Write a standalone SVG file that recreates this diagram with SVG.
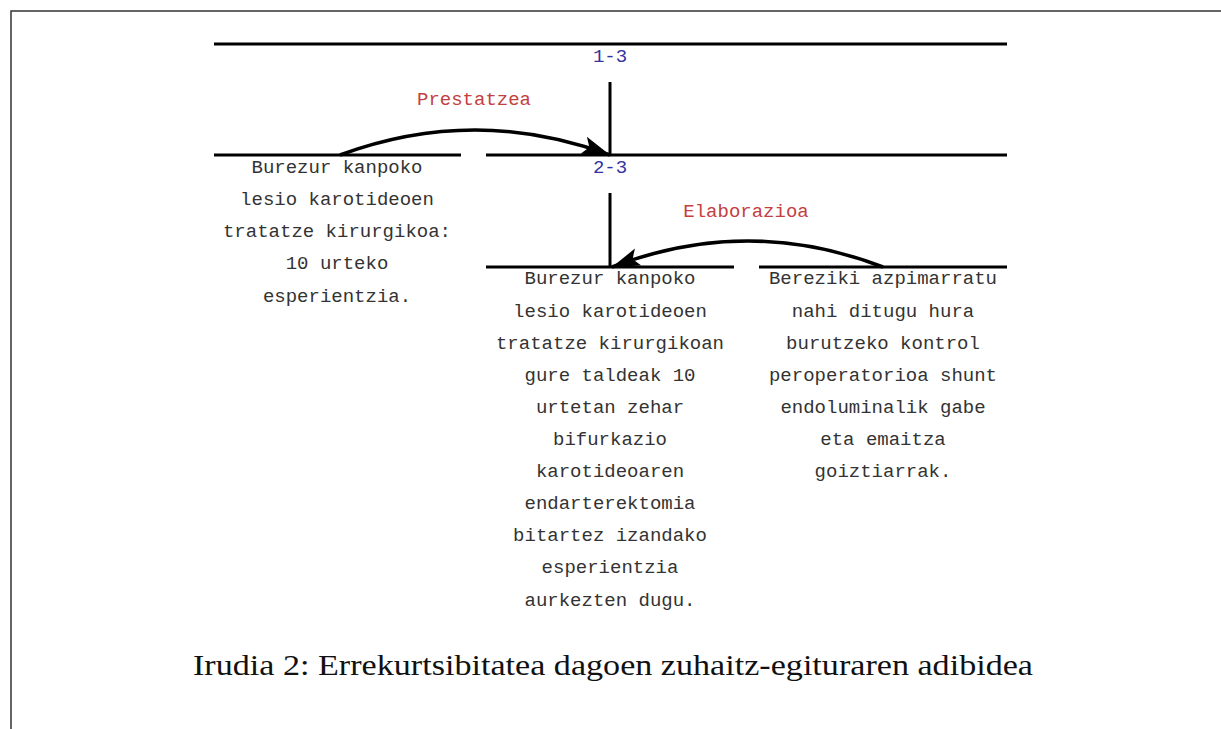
<svg xmlns="http://www.w3.org/2000/svg" width="1221" height="729" viewBox="0 0 1221 729">
<style>
.ln{stroke:#000;stroke-width:3;fill:none}
.t{font-family:"Liberation Mono","DejaVu Sans Mono",monospace;font-size:19px;fill:#333;text-anchor:middle}
.id{font-family:"Liberation Mono",monospace;font-size:19px;fill:#3333a0;text-anchor:middle}
.rel{font-family:"Liberation Mono",monospace;font-size:19px;fill:#c44040;text-anchor:middle}
.cap{font-family:"Liberation Serif","Times New Roman",serif;font-size:29px;fill:#111;text-anchor:middle}
.arc{stroke:#000;stroke-width:3.5;fill:none}
</style>
<defs>
<marker id="ah" markerUnits="userSpaceOnUse" markerWidth="30" markerHeight="30" viewBox="0 0 30 30" refX="28" refY="15" orient="auto">
<path d="M0,6 L28,15 L0,24 L6,15 Z" fill="#000"/>
</marker>
</defs>
<rect width="1221" height="729" fill="#fff"/>
<g id="frame">
<path d="M11,729 V11 H1221" stroke="#333" stroke-width="1.5" fill="none"/>
</g>
<g id="node-1-3">
<line class="ln" x1="214" y1="44" x2="1007" y2="44"/>
<text class="id" x="610" y="62">1-3</text>
</g>
<g id="node-sat1">
<line class="ln" x1="214" y1="155" x2="461" y2="155"/>
<text class="t" x="337" y="173">Burezur kanpoko</text>
<text class="t" x="337" y="205">lesio karotideoen</text>
<text class="t" x="337" y="237">tratatze kirurgikoa:</text>
<text class="t" x="337" y="269">10 urteko</text>
<text class="t" x="337" y="302">esperientzia.</text>
</g>
<g id="node-2-3">
<line class="ln" x1="610" y1="82" x2="610" y2="155"/>
<line class="ln" x1="486" y1="155" x2="1007" y2="155"/>
<text class="id" x="610" y="173">2-3</text>
<line class="ln" x1="610" y1="193" x2="610" y2="267"/>
</g>
<g id="node-nuc2">
<line class="ln" x1="486" y1="267" x2="734" y2="267"/>
<text class="t" x="610" y="284">Burezur kanpoko</text>
<text class="t" x="610" y="317">lesio karotideoen</text>
<text class="t" x="610" y="349">tratatze kirurgikoan</text>
<text class="t" x="610" y="381">gure taldeak 10</text>
<text class="t" x="610" y="413">urtetan zehar</text>
<text class="t" x="610" y="445">bifurkazio</text>
<text class="t" x="610" y="477">karotideoaren</text>
<text class="t" x="610" y="509">endarterektomia</text>
<text class="t" x="610" y="541">bitartez izandako</text>
<text class="t" x="610" y="573">esperientzia</text>
<text class="t" x="610" y="606">aurkezten dugu.</text>
</g>
<g id="node-sat2">
<line class="ln" x1="759" y1="267" x2="1007" y2="267"/>
<text class="t" x="883" y="284">Bereziki azpimarratu</text>
<text class="t" x="883" y="317">nahi ditugu hura</text>
<text class="t" x="883" y="349">burutzeko kontrol</text>
<text class="t" x="883" y="381">peroperatorioa shunt</text>
<text class="t" x="883" y="413">endoluminalik gabe</text>
<text class="t" x="883" y="445">eta emaitza</text>
<text class="t" x="883" y="477">goiztiarrak.</text>
</g>
<g id="connectors">
<path class="arc" d="M340,155 Q475,105 610,155" marker-end="url(#ah)"/>
<text class="rel" x="474" y="105">Prestatzea</text>
<path class="arc" d="M883,267 Q748,215 612,267" marker-end="url(#ah)"/>
<text class="rel" x="746" y="217">Elaborazioa</text>
</g>
<g id="caption">
<text class="cap" x="613" y="675" textLength="840" lengthAdjust="spacingAndGlyphs">Irudia 2: Errekurtsibitatea dagoen zuhaitz-egituraren adibidea</text>
</g>
</svg>
